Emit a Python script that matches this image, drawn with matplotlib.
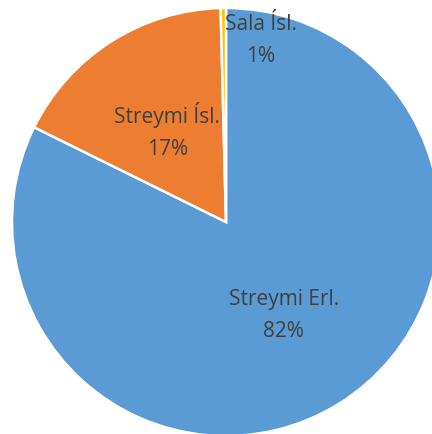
import numpy as np
import matplotlib
matplotlib.use('Agg')
import matplotlib.pyplot as plt

labels = ['Streymi Erl.', 'Streymi Ísl.', 'Sala Ísl.']
shares = [82.3, 17.3, 0.4]
shown_pct = ['82%', '17%', '1%']
colors = ['#5B9BD5', '#ED7D31', '#FFC000']

plt.rcParams['font.family'] = ['Open Sans', 'DejaVu Sans']

fig = plt.figure(figsize=(4.32, 4.35), dpi=100)
ax = fig.add_axes([0, 0, 1, 1])

wedges, _ = ax.pie(shares, colors=colors, startangle=90, counterclock=False,
                   radius=1.0, wedgeprops=dict(edgecolor='white', linewidth=1.8))

# label placement (fraction of radius along the wedge middle)
for i, w in enumerate(wedges):
    mid = np.deg2rad((w.theta1 + w.theta2) / 2)
    r = 0.51
    x, y = r * np.cos(mid), r * np.sin(mid)
    if labels[i] == 'Sala Ísl.':
        x, y = 0.164, 0.852
    ax.text(x, y, f'{labels[i]}\n{shown_pct[i]}', ha='center', va='center',
            fontsize=15, color='#404040', linespacing=1.65)

ax.set_xlim(-226 / 214, (432 - 226) / 214)
ax.set_ylim((223 - 435) / 214, 223 / 214)
ax.set_aspect('auto')
ax.axis('off')

fig.savefig('out.png', dpi=100, facecolor='white')
